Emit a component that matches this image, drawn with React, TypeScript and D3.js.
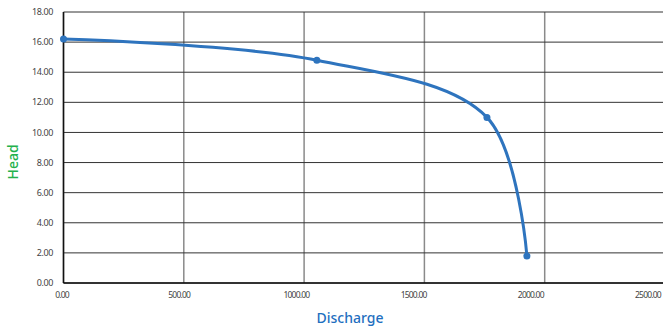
import React from "react";
import * as d3 from "d3";

const discharge = [0, 1053, 1760, 1926];
const head = [16.2, 14.8, 11.0, 1.8];
const xTicks = [0, 500, 1000, 1500, 2000, 2500];
const yTicks = [0, 2, 4, 6, 8, 10, 12, 14, 16, 18];

const W = 663;
const H = 329;

export default function App() {
  const x = d3.scaleLinear().domain([0, 2500]).range([63.5, 665]);
  const xLab = d3.scaleLinear().domain([0, 2500]).range([62, 648]);
  const y = d3.scaleLinear().domain([0, 18]).range([283, 12]);
  const pts: [number, number][] = discharge.map((d, i) => [x(d), y(head[i])]);
  const line = d3.line().curve(d3.curveCatmullRom.alpha(0.5))(pts) || "";
  const font = "'Noto Sans', 'Open Sans', sans-serif";
  return (
    <svg width={W} height={H} style={{ position: "absolute", left: 0, top: 0 }}>
      <rect width={W} height={H} fill="#fff" />
      {xTicks.map((t) => (
        <line key={"vx" + t} x1={x(t)} x2={x(t)} y1={y(18)} y2={y(0)} stroke="#8a8a8a" strokeWidth={1.5} />
      ))}
      {yTicks.map((t) => (
        <line key={"hy" + t} x1={x(0)} x2={W} y1={y(t)} y2={y(t)} stroke="#333" strokeWidth={1} />
      ))}
      <line x1={x(0)} x2={x(0)} y1={y(18)} y2={y(0)} stroke="#111" strokeWidth={1.5} />
      <line x1={x(0)} x2={W} y1={y(0)} y2={y(0)} stroke="#111" strokeWidth={1.5} />
      {yTicks.map((t) => (
        <text key={"ly" + t} x={53} y={y(t)} dy="0.35em" textAnchor="end" fontSize={9} fill="#444" fontFamily={font} letterSpacing={-0.4}>
          {t.toFixed(2)}
        </text>
      ))}
      {xTicks.map((t) => (
        <text key={"lx" + t} x={xLab(t)} y={298} textAnchor="middle" fontSize={8.5} fill="#444" fontFamily={font} letterSpacing={-0.8}>
          {t.toFixed(2)}
        </text>
      ))}
      <path d={line} fill="none" stroke="#2e74be" strokeWidth={3} />
      {pts.map((p, i) => (
        <circle key={i} cx={p[0]} cy={p[1]} r={3.5} fill="#2e74be" />
      ))}
      <text x={350} y={323} textAnchor="middle" fontSize={14} fill="#1f6fc0" fontFamily={font} fontWeight={500}>
        Discharge
      </text>
      <text transform={`translate(18,162) rotate(-90)`} textAnchor="middle" fontSize={14} fill="#22b14c" fontFamily={font} fontWeight={500}>
        Head
      </text>
    </svg>
  );
}
